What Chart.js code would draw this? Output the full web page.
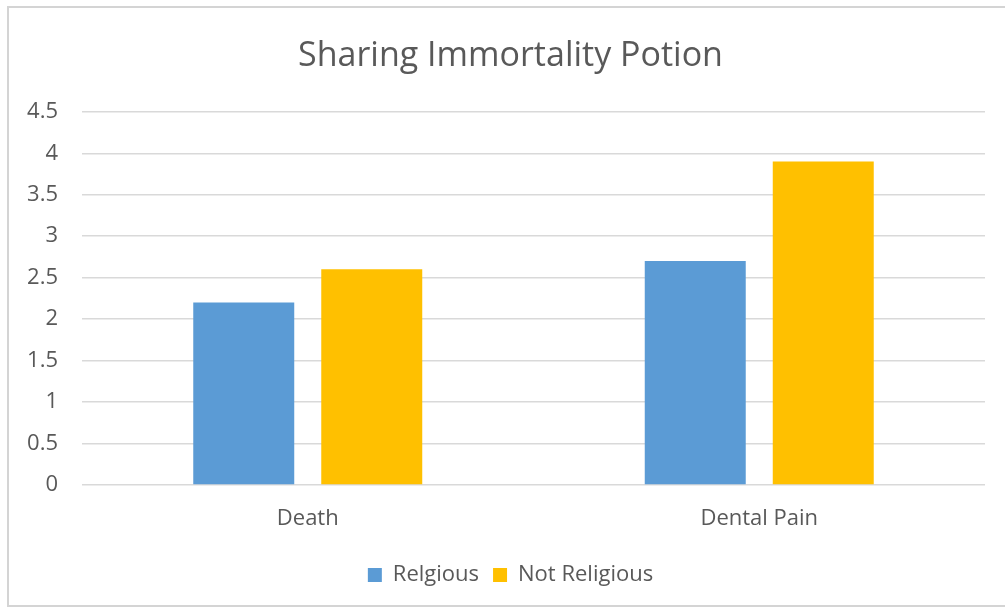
<!DOCTYPE html>
<html>
<head>
<meta charset="utf-8">
<script src="https://cdn.jsdelivr.net/npm/chart.js@4/dist/chart.umd.min.js"></script>
<style>
  html, body { margin: 0; padding: 0; background: #ffffff; }
  #wrap { position: relative; width: 1005px; height: 610px; }
</style>
</head>
<body>
<div id="wrap"><canvas id="c" width="1005" height="610"></canvas></div>
<script>
const categories = ["Death", "Dental Pain"];
const religious = [2.2, 2.7];
const notReligious = [2.6, 3.9];
const seriesNames = ["Relgious", "Not Religious"];
const yTicks = [0, 0.5, 1, 1.5, 2, 2.5, 3, 3.5, 4, 4.5];
const titleText = "Sharing Immortality Potion";

const FONT = "'Open Sans', 'DejaVu Sans', sans-serif";
const TXT = "#595959";

const borderPlugin = {
  id: "frame",
  beforeDraw(chart) {
    const ctx = chart.ctx;
    ctx.save();
    ctx.fillStyle = "#ffffff";
    ctx.fillRect(0, 0, chart.width, chart.height);
    ctx.strokeStyle = "#D4D4D4";
    ctx.lineWidth = 2;
    ctx.strokeRect(8, 7, 1010, 599);
    ctx.restore();
  }
};

new Chart(document.getElementById("c"), {
  type: "bar",
  data: {
    labels: categories,
    datasets: [
      { label: seriesNames[0], data: religious, backgroundColor: "#5B9BD5", borderWidth: 0 },
      { label: seriesNames[1], data: notReligious, backgroundColor: "#FFC000", borderWidth: 0 }
    ]
  },
  plugins: [borderPlugin],
  options: {
    responsive: false,
    animation: false,
    devicePixelRatio: 1,
    layout: { padding: { left: 16, right: 0, top: 0, bottom: 14 } },
    datasets: { bar: { categoryPercentage: 0.567, barPercentage: 0.789 } },
    plugins: {
      title: {
        display: true,
        text: titleText,
        color: TXT,
        font: { family: FONT, size: 34, weight: "normal" },
        padding: { top: 36, bottom: 35 }
      },
      legend: {
        display: true,
        position: "bottom",
        labels: {
          color: TXT,
          font: { family: FONT, size: 22 },
          boxWidth: 14,
          boxHeight: 14,
          padding: 14
        }
      },
      tooltip: { enabled: false }
    },
    scales: {
      x: {
        grid: { display: false, drawTicks: false },
        border: { display: false },
        ticks: { color: TXT, font: { family: FONT, size: 22 }, padding: 21 },
        afterFit(scale) { scale.height = 65; }
      },
      y: {
        min: 0,
        max: 4.5,
        afterBuildTicks(scale) { scale.ticks = yTicks.map(v => ({ value: v })); },
        grid: { color: "#D9D9D9", lineWidth: 1.5, drawTicks: false },
        border: { display: false },
        ticks: {
          color: TXT,
          font: { family: FONT, size: 22 },
          padding: 24,
          callback: (v) => String(v)
        },
        afterFit(scale) { scale.width = 66; }
      },
      yRight: {
        position: "right",
        display: true,
        min: 0,
        max: 4.5,
        grid: { display: false, drawTicks: false },
        border: { display: false },
        ticks: { display: false },
        afterFit(scale) { scale.width = 20; }
      }
    }
  }
});
</script>
</body>
</html>
